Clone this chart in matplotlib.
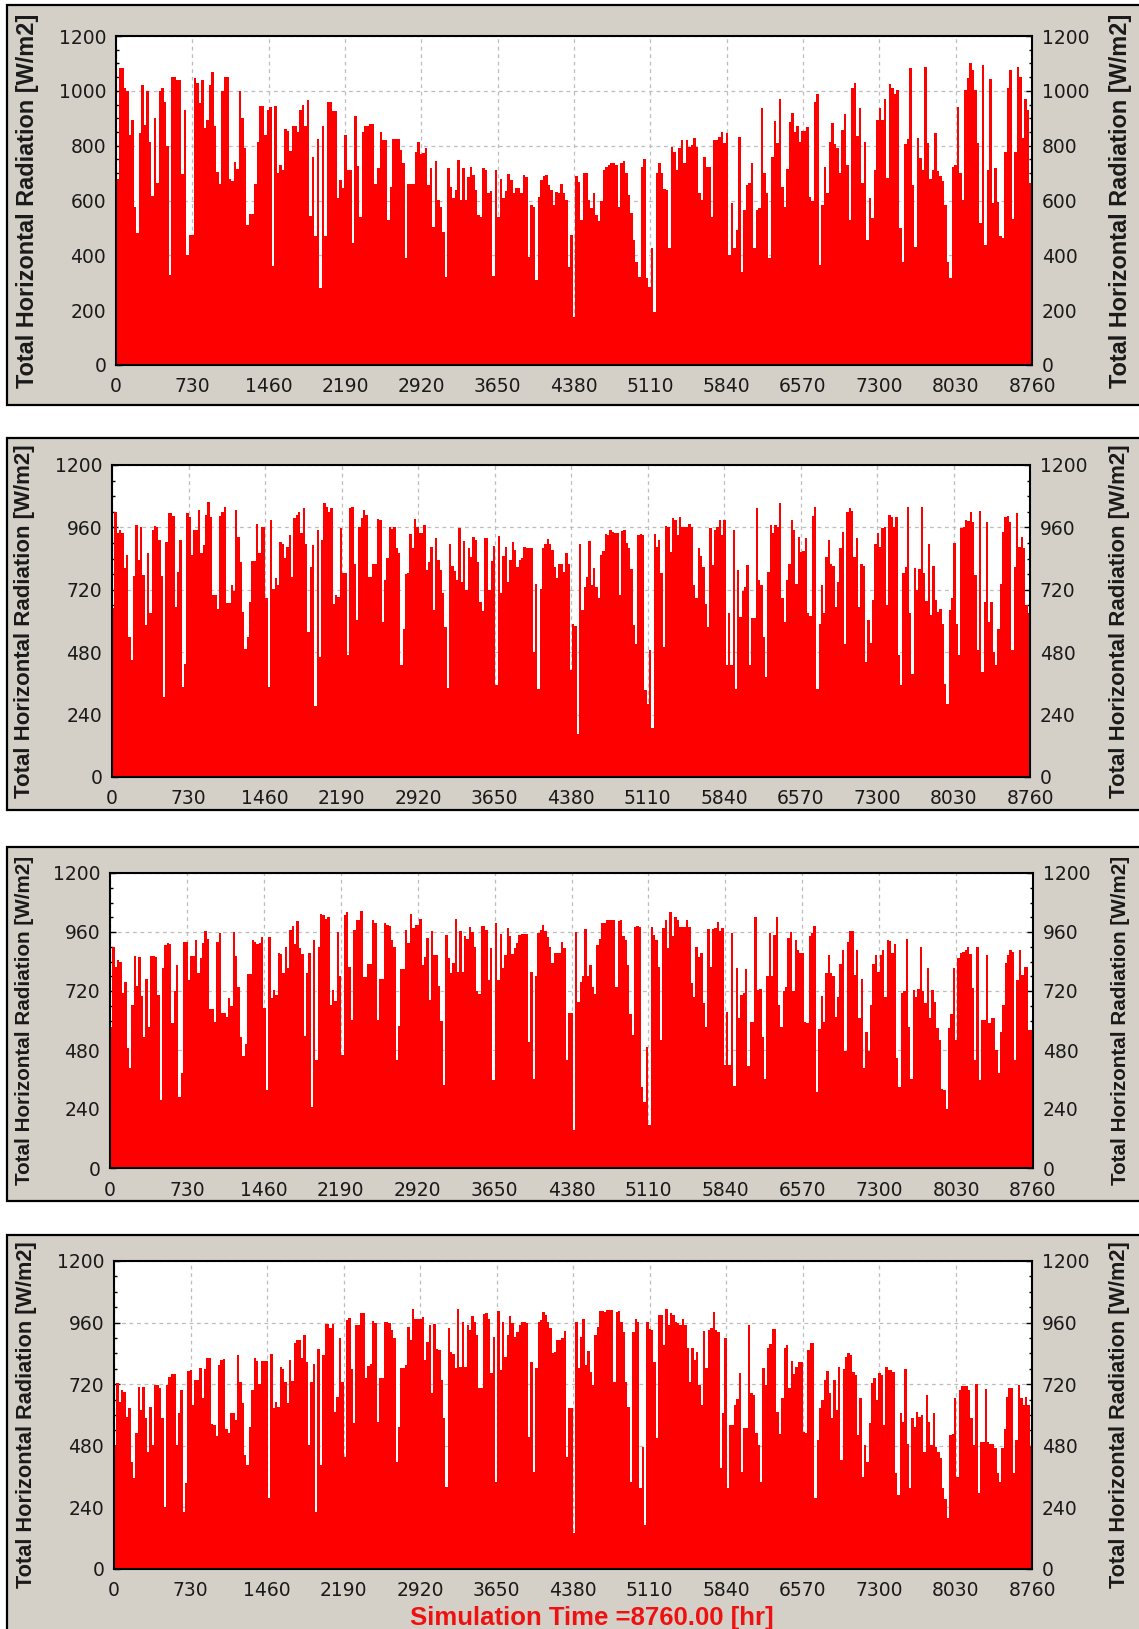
import numpy as np
import matplotlib
matplotlib.use("Agg")
import matplotlib.pyplot as plt
from matplotlib.patches import Rectangle
from matplotlib.ticker import MultipleLocator

# ---------------------------------------------------------------------------
# Data: peak total horizontal radiation [W/m2] for consecutive periods of the
# simulated year (0 .. 8760 h), one list per plotter window.
# ---------------------------------------------------------------------------
hour_ticks = [0, 730, 1460, 2190, 2920, 3650, 4380, 5110, 5840, 6570, 7300, 8030, 8760]
y_major_step = [200, 240, 240, 240]
y_minor_step = [50, 60, 60, 60]

p1_peak = [
    680, 1085, 1085, 1010, 1000, 840, 895, 575, 480, 845,
    1020, 875, 1000, 815, 615, 900, 665, 1000, 1010, 960,
    800, 330, 1050, 1050, 1040, 1040, 695, 930, 400, 475,
    475, 1045, 1030, 955, 1040, 865, 895, 1020, 1070, 870,
    705, 660, 1000, 1050, 1050, 680, 670, 740, 715, 1000,
    900, 790, 510, 550, 550, 660, 815, 945, 945, 840,
    930, 940, 360, 945, 700, 730, 710, 860, 855, 780,
    870, 870, 850, 930, 950, 870, 965, 545, 760, 470,
    825, 280, 870, 470, 960, 960, 925, 925, 610, 675,
    645, 840, 710, 710, 445, 910, 725, 540, 850, 870,
    870, 880, 880, 660, 720, 850, 820, 820, 530, 650,
    825, 825, 825,
    784, 735, 389, 662, 662, 662, 778, 815, 770, 772,
    793, 656, 717, 505, 744, 602, 577, 486, 322, 717,
    650, 608, 638, 748, 602, 717, 602, 687, 723, 693,
    638, 547, 540, 717, 711, 626, 635, 325, 711, 540,
    678, 608, 635, 697, 675, 629, 645, 647, 626, 693,
    687, 395, 584, 578, 310, 614, 675, 689, 693, 656,
    638, 584, 632, 626, 659, 626, 602, 358, 474, 176,
    690, 669, 529, 700, 702, 602, 571, 626, 547, 526,
    600, 711, 723, 729, 738, 736, 729, 577, 736, 745,
    699, 620, 553, 456, 377, 322, 723, 750, 316, 286,
    425, 195, 699, 736, 699, 641, 638, 425, 796, 778,
    711, 790, 820, 736, 820, 796, 802, 827, 796, 626,
    602, 760, 723, 723, 541, 820, 820, 833, 851, 808,
    845, 401, 590, 425, 492, 833, 340, 565, 657, 663,
    736, 425, 565, 571, 936, 699, 626, 389,
    760, 890, 810, 970, 650, 578, 714, 887, 920, 850,
    870, 812, 853, 855, 867, 614, 597, 960, 990, 365,
    584, 723, 628, 812, 884, 805, 790, 701, 857, 915,
    729, 529, 1009, 1027, 835, 938, 665, 815, 456, 608,
    535, 711, 894, 936, 894, 969, 681, 1024, 1010, 990,
    1003, 498, 377, 806, 823, 1082, 657, 432, 827, 754,
    711, 1088, 810, 680, 711, 845, 708, 690, 670, 584,
    377, 316, 723, 730, 942, 699, 602, 1003, 1048, 1100,
    1076, 1003, 808, 519, 1093, 438, 711, 1043, 590, 720,
    596, 470, 464, 778, 1009, 1076, 531, 778, 1088, 1050,
    827, 972, 930, 663,
]

p2_peak = [
    650, 1020, 937, 950, 940, 802, 853, 539, 449, 773,
    969, 834, 960, 776, 584, 860, 631, 950, 965, 960,
    911, 773, 308, 905, 1014, 1014, 1005, 655, 789, 911,
    347, 436, 1014, 1000, 853, 950, 950, 1027, 860, 892,
    1007, 1059, 1000, 699, 699, 648, 1003, 1020, 1040, 670,
    670, 740, 716, 1027, 924, 828, 635, 494, 539, 674,
    830, 830, 975, 860, 960, 960, 687, 347, 988, 725,
    764, 738, 905, 898, 841, 883, 930, 770, 998, 1007,
    1020, 937, 1036, 898, 558, 808, 892, 272, 950, 462,
    911, 1052, 1040, 1020, 1033, 667, 699, 693, 959, 783,
    783, 468, 1033, 1040, 821, 603, 960, 995, 1027, 1007,
    770, 770, 821, 821, 991, 990, 597, 757, 841, 960,
    955, 960, 880, 860,
    430, 571, 780, 785, 933, 879, 991, 963, 937, 940,
    969, 796, 828, 886, 642, 918, 834, 796, 706, 578,
    344, 898, 811, 793, 757, 956, 751, 909, 720, 879,
    847, 924, 910, 828, 674, 640, 921, 920, 719, 831,
    890, 353, 927, 706, 850, 886, 751, 834, 905, 873,
    809, 834, 843, 886, 880, 880, 880, 481, 744, 340,
    725, 879, 895, 914, 898, 873, 809, 764, 821, 821,
    790, 860, 820, 411, 590, 580, 167, 898, 642, 732,
    770, 907, 738, 802, 730, 690, 853, 870, 934, 930,
    950, 943, 940, 940, 699, 947, 950, 900, 880, 800,
    584, 513, 930, 933, 930, 334, 282, 488, 189, 933,
    886, 911, 783, 500, 965, 960, 864, 998, 988, 930,
    1000, 960, 960, 960, 975, 960, 738, 687, 879, 849,
    809, 667, 578, 956, 815, 950, 960, 988, 930, 990,
    430, 631, 430, 950, 340, 796, 616, 716, 730, 815,
    430, 610, 610, 1033, 757, 738, 539, 385, 789, 969,
    937, 969, 963, 1052, 687, 597, 757, 821, 988, 950,
    744, 924, 866, 870, 918, 629, 619, 1004, 1037, 340,
    590, 738, 631, 847, 911, 821, 810, 655, 751, 879,
    943, 513, 1020, 1033, 1025, 847, 918, 655, 821, 810,
    443, 603, 516, 680, 898, 937, 883, 956, 960, 661,
    1007, 1000, 960, 1000, 468, 353, 783, 809, 1037, 629,
    398, 802, 719, 800, 1037, 783, 678, 898, 622, 811,
    680, 635, 648, 590, 359, 282, 642, 687, 901, 590,
    471, 956, 960, 990, 985, 1020, 980, 776, 488, 1024,
    404, 674, 982, 597, 674, 481, 430, 570, 742, 943,
    1001, 1004, 980, 488, 809, 1014, 886, 924, 880, 661,
    629,
]

p3_peak = [
    575, 901, 819, 847, 840, 713, 758, 487, 405, 663,
    863, 742, 858, 700, 534, 768, 575, 863, 863, 860,
    704, 276, 813, 908, 915, 912, 588, 718, 826, 289,
    385, 921, 921, 765, 863, 863, 928, 792, 853, 915,
    966, 932, 645, 645, 595, 921, 955, 629, 629, 613,
    690, 659, 962, 863, 738, 534, 455, 504, 788, 788,
    928, 921, 912, 915, 939, 650, 317, 939, 690, 724,
    704, 874, 870, 792, 901, 813, 969, 985, 912, 1003,
    894, 870, 537, 792, 874, 249, 928, 439, 898, 1034,
    1030, 1012, 1023, 663, 724, 681, 958, 779, 459, 1030,
    1040, 819, 602, 969, 1010, 1010, 1044, 776, 776, 830,
    830, 1010, 996, 602, 768, 768, 996, 990, 985, 928,
    900,
    439, 578, 809, 809, 969, 915, 1034, 976, 990, 990,
    1012, 826, 860, 935, 684, 966, 867, 867, 742, 599,
    337, 949, 853, 792, 833, 1012, 799, 966, 799, 942,
    931, 980, 962, 901, 718, 708, 985, 985, 970, 765,
    894, 357, 996, 765, 953, 813, 867, 976, 942, 870,
    894, 915, 949, 953, 953, 953, 514, 799, 364, 779,
    955, 969, 987, 966, 940, 901, 833, 876, 876, 876,
    921, 894, 439, 629, 629, 156, 962, 677, 756, 781,
    972, 781, 826, 738, 708, 908, 931, 996, 996, 1007,
    1010, 1010, 1010, 738, 1003, 1010, 942, 928, 826, 627,
    541, 980, 985, 980, 330, 269, 491, 174, 980, 949,
    928, 819, 520, 976, 1010, 894, 1040, 945, 1023, 1010,
    980, 980, 980, 1010, 980, 752, 697, 898, 860, 874,
    673, 575, 972, 819, 972, 976, 999, 966, 976, 419,
    636, 419, 955, 333, 813, 609, 704, 710, 809, 414,
    595, 595, 1023, 724, 730, 534, 364, 779, 955,
    779, 949, 1023, 663, 575, 718, 738, 935, 958, 718,
    928, 887, 874, 874, 595, 588, 942, 955, 985, 310,
    564, 700, 595, 792, 867, 795, 780, 616, 697, 830,
    887, 477, 921, 966, 966, 785, 885, 609, 768, 408,
    554, 477, 663, 830, 867, 799, 867, 887, 697, 928,
    924, 874, 912, 446, 330, 711, 718, 931, 575, 364,
    724, 697, 727, 901, 718, 670, 813, 609, 724, 677,
    568, 520, 323, 317, 242, 568, 627, 813, 520, 853,
    876, 880, 887, 897, 870, 731, 439, 901, 357, 602,
    602, 867, 591, 609, 609, 480, 385, 554, 663, 833,
    867, 887, 880, 439, 765, 887, 785, 819, 819, 561,
    561,
]

p4_peak = [
    483, 723, 652, 697, 691, 593, 626, 418, 353, 528,
    710, 619, 710, 590, 457, 632, 483, 717, 717, 704,
    590, 243, 717, 749, 758, 758, 483, 609, 697, 223,
    334, 773, 775, 639, 735, 735, 784, 665, 779, 821,
    821, 564, 561, 519, 795, 814, 818, 545, 528, 606,
    606, 580, 834, 730, 645, 444, 405, 555, 697, 821,
    810, 720, 810, 810, 810, 278, 836, 626, 652, 632,
    788, 780, 730, 645, 814, 733, 879, 892, 892, 823,
    912, 808, 483, 730, 797, 223, 857, 405, 834, 953,
    953, 938, 953, 613, 671, 899, 727, 438, 970, 979,
    779, 568, 951, 951, 996, 996, 745, 792, 800, 966,
    960, 574, 743, 743, 964, 964, 960, 931, 900,
    418, 555, 784, 784, 795, 944, 892, 1013, 974, 974,
    974, 983, 814, 886, 951, 684, 953, 857, 853, 736,
    587, 321, 940, 847, 836, 782, 1013, 788, 964, 788,
    951, 931, 987, 964, 912, 707, 704, 992, 996, 974,
    762, 905, 338, 1005, 775, 964, 827, 912, 987, 957,
    905, 922, 951, 964, 964, 957, 516, 808, 379, 782,
    964, 970, 1000, 990, 964, 938, 840, 847, 892, 892,
    899, 927, 438, 626, 626, 139, 964, 782, 905, 974,
    795, 849, 769, 717, 912, 944, 1005, 1005, 1000, 1009,
    1009, 1009, 730, 1000, 1005, 964, 925, 730, 632, 340,
    925, 973, 964, 314, 477, 171, 964, 935, 931, 808,
    509, 990, 990, 873, 1013, 951, 996, 990, 964, 957,
    951, 974, 951, 862, 730, 860, 814, 847, 717, 639,
    927, 782, 931, 940, 1000, 931, 925, 392, 606, 899,
    314, 561, 561, 639, 662, 762, 379, 551, 551, 951,
    684, 676, 529, 483, 340, 782,
    717, 860, 875, 935, 935, 610, 525, 667, 860, 873,
    704, 810, 758, 788, 805, 805, 535, 529, 853, 879,
    879, 278, 503, 626, 658, 736, 771, 684, 587, 736,
    619, 788, 425, 779, 827, 840, 834, 769, 756, 522,
    665, 360, 483, 418, 568, 723, 743, 658, 762, 756,
    561, 788, 775, 775, 769, 373, 288, 606, 574, 779,
    486, 314, 590, 555, 613, 594, 600, 457, 678, 574,
    483, 606, 477, 457, 431, 314, 273, 197, 522, 525,
    665, 360, 697, 714, 714, 714, 697, 590, 483, 719,
    295, 496, 496, 701, 496, 486, 486, 470, 373, 340,
    473, 545, 671, 707, 707, 373, 503, 717, 667, 639,
    671, 639, 481,
]

series = [p1_peak, p2_peak, p3_peak, p4_peak]

ylabel_text = "Total Horizontal Radiation [W/m2]"
footer_text = "Simulation Time =8760.00 [hr]"

# ---------------------------------------------------------------------------
# Layout (pixel boxes: left, top, right, bottom)
# ---------------------------------------------------------------------------
W, H, DPI = 1139, 1629, 100
frame_boxes = [(7, 5, 1150, 405), (7, 438, 1150, 810),
               (7, 847, 1150, 1201), (7, 1235, 1150, 1645)]
axes_boxes = [(116, 36, 1032, 365), (112, 465, 1030, 777),
              (110, 873, 1033, 1168), (114, 1261, 1032, 1569)]
left_label_x = [28, 25, 25, 27]
right_label_x = 1120
ylabel_size = [16.9, 16.0, 14.9, 15.7]

PANEL_GRAY = "#d4d0c8"
FILL_RED = "#ff0000"
TEXT_DARK = "#1a1a1a"

plt.rcParams["font.family"] = ["DejaVu Sans"]

fig = plt.figure(figsize=(W / DPI, H / DPI), dpi=DPI, facecolor="white")


def fx(px):
    return px / W


def fy(py):
    return 1.0 - py / H


for i, (vals, fb, ab) in enumerate(zip(series, frame_boxes, axes_boxes)):
    # grey window frame
    l, t, r, b = fb
    fig.add_artist(Rectangle((fx(l), fy(b)), fx(r - l), (b - t) / H,
                             transform=fig.transFigure, facecolor=PANEL_GRAY,
                             edgecolor="black", linewidth=1.6, zorder=-5))

    l, t, r, b = ab
    ax = fig.add_axes([fx(l), fy(b), fx(r - l), (b - t) / H])
    ax.set_facecolor("white")

    edges = np.linspace(0, 8760, len(vals) + 1)
    ax.stairs(vals, edges, fill=True, color=FILL_RED, linewidth=0,
              baseline=0, zorder=2)

    ax.set_xlim(0, 8760)
    ax.set_ylim(0, 1200)
    ax.set_xticks(hour_ticks)
    ax.set_xticklabels([str(h) for h in hour_ticks])
    ax.yaxis.set_major_locator(MultipleLocator(y_major_step[i]))
    ax.yaxis.set_minor_locator(MultipleLocator(y_minor_step[i]))

    ax.set_axisbelow(True)
    ax.grid(True, which="major", color="#bdbdbd", linestyle=(0, (3, 3)),
            linewidth=0.9)

    ax.tick_params(axis="y", which="both", direction="in", left=True,
                   right=True, labelleft=True, labelright=True,
                   labelsize=13.5, labelcolor=TEXT_DARK, pad=7,
                   color="black")
    ax.tick_params(axis="y", which="major", length=4, width=1.0)
    ax.tick_params(axis="y", which="minor", length=2.5, width=1.0)
    ax.tick_params(axis="x", which="both", length=0, pad=9,
                   labelsize=13.5, labelcolor=TEXT_DARK)

    for side in ("left", "right", "top", "bottom"):
        ax.spines[side].set_color("black")
        ax.spines[side].set_linewidth(1.5)

    yc = fy((t + b) / 2)
    for xpos in (left_label_x[i], right_label_x):
        fig.text(fx(xpos), yc, ylabel_text, rotation=90,
                 ha="center", va="center", fontsize=ylabel_size[i],
                 fontweight="bold", family=["Liberation Sans", "DejaVu Sans"],
                 color=TEXT_DARK)

fig.text(fx(592), fy(1625), footer_text, ha="center", va="baseline",
         fontsize=18.5, fontweight="bold",
         family=["Liberation Sans", "DejaVu Sans"], color="#ee1111")

fig.savefig("out.png", dpi=DPI, facecolor="white")
